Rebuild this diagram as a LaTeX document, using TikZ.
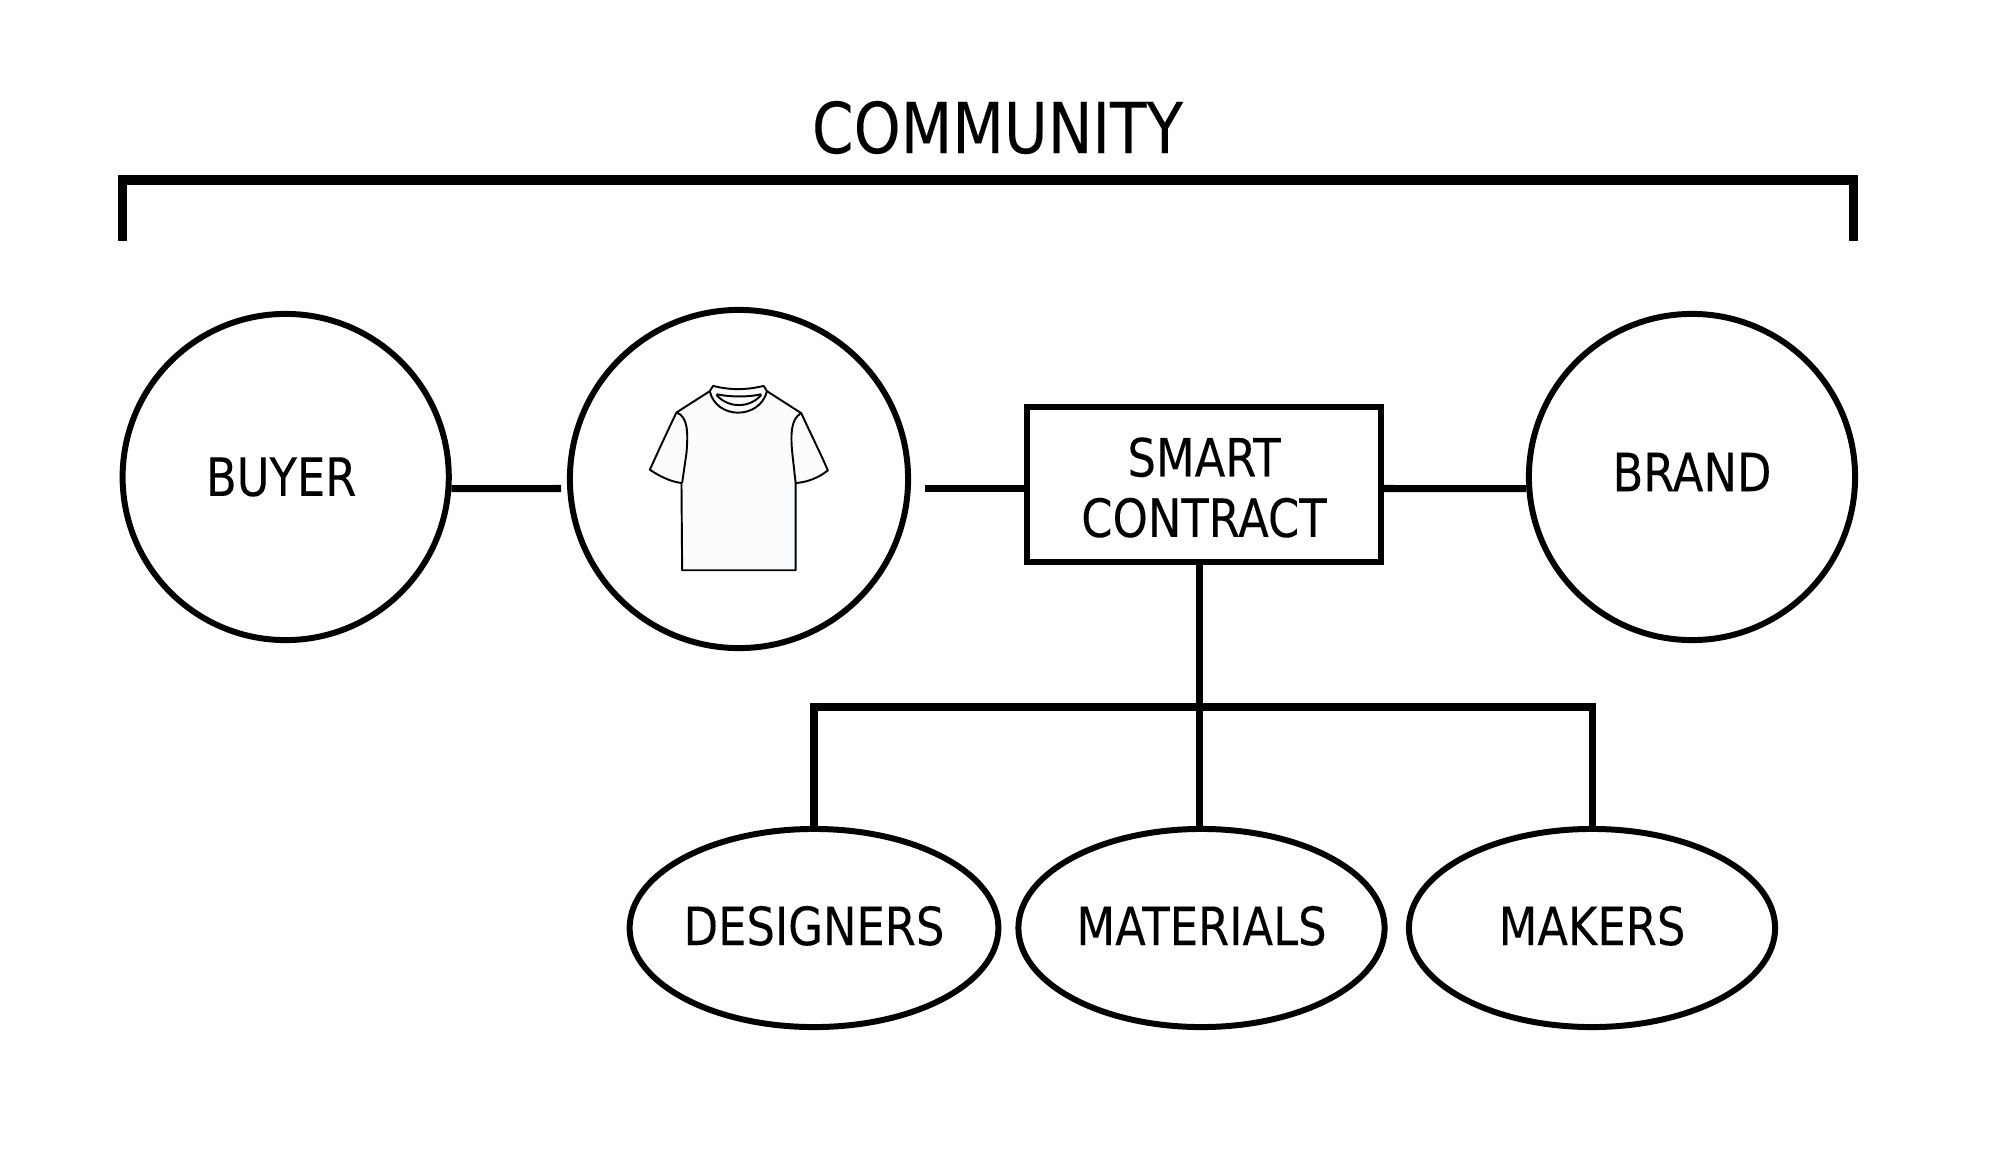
\documentclass[tikz,border=0pt]{standalone}
\usepackage{fontspec}
\setmainfont{DejaVu Sans}[FakeStretch=0.85, FakeBold=0.12]
\usetikzlibrary{shapes.geometric}

\definecolor{shirtfill}{HTML}{FBFCFE}
\tikzset{
	party/.style={draw, circle, line width=1.7pt, minimum size=3.26cm, inner sep=0pt},
	pool/.style={draw, ellipse, line width=1.7pt, minimum width=3.66cm, minimum height=1.98cm, inner sep=0pt, text depth=0.05cm, font=\fontsize{15}{17}\selectfont},
	word/.style={font=\fontsize{15}{17.2}\selectfont, align=center},
	link/.style={line width=2pt},
	tee/.style={line width=0.55pt, line join=round}
}

\begin{document}
\begin{tikzpicture}[x=0.01cm, y=-0.01cm]

\def\width{2000}
\def\height{1151}

\path [use as bounding box] (0,0) rectangle (\width,\height);

% BRACKET
\node (title) at (997.5,127.5) {\fontsize{20}{22}\selectfont COMMUNITY};
\draw [line width=2.56pt] (122.5,241) -- (122.5,180);
\draw [line width=2.56pt] (1853.5,241) -- (1853.5,180);
\draw [line width=2.85pt] (118,180) -- (1858,180);

% NODES
\node [party, label={[word, xshift=-0.045cm]center:BUYER}] (buyer) at (285.7,477) {};
\node [party, minimum size=3.38cm] (shirt) at (739,479) {};
\node [party, label={[word, yshift=0.05cm]center:BRAND}] (brand) at (1692,477) {};
\node [draw, line width=1.7pt, minimum width=3.54cm, minimum height=1.55cm, inner sep=0pt, label={[word, yshift=-0.03cm]center:SMART\\CONTRACT}] (contract) at (1204,484.5) {};
\node [pool] (designers) at (814,928) {DESIGNERS};
\node [pool] (materials) at (1201.5,928) {MATERIALS};
\node [pool] (makers) at (1592,928) {MAKERS};

% SHIRT
\begin{scope}[shift={(560,300)}, x=0.003333cm, y=-0.003333cm]
\draw [tee, fill=shirtfill] (460,258) -- (450,274) -- (350,338) .. controls (320,400) and (295,455) .. (270,510)
	.. controls (300,530) and (330,545) .. (365,550) -- (367,812) -- (708,812) -- (708,550)
	.. controls (745,547) and (775,535) .. (805,512) .. controls (780,455) and (750,395) .. (725,340)
	-- (622,274) -- (612,258) .. controls (560,271) and (510,271) .. (460,258) -- cycle;
\draw [tee] (350,338) .. controls (385,350) and (385,400) .. (380,460) -- (367,550);
\draw [tee] (725,340) .. controls (695,355) and (692,400) .. (698,460) -- (708,550);
\draw [tee] (450,274) .. controls (470,360) and (600,360) .. (622,274);
\draw [tee] (470,285) .. controls (505,326) and (570,326) .. (605,285);
\draw [tee] (470,283) .. controls (510,292) and (570,292) .. (605,283);
\end{scope}

% LINKS
\coordinate (gapleft) at (561,488.5);
\coordinate (gapright) at (925,488.5);
\coordinate (bus) at (1199,707);
\draw [link] (buyer.-4) -- (gapleft);
\draw [link] (gapright) -- (contract.west |- gapright);
\draw [link] (contract.east |- gapright) -- (brand.184);
\draw [link] (contract.south -| bus) -- (materials.north -| bus);
\draw [link] (designers.north) -- (designers.north |- bus) -- (makers.north |- bus) -- (makers.north);

\end{tikzpicture}
\end{document}
